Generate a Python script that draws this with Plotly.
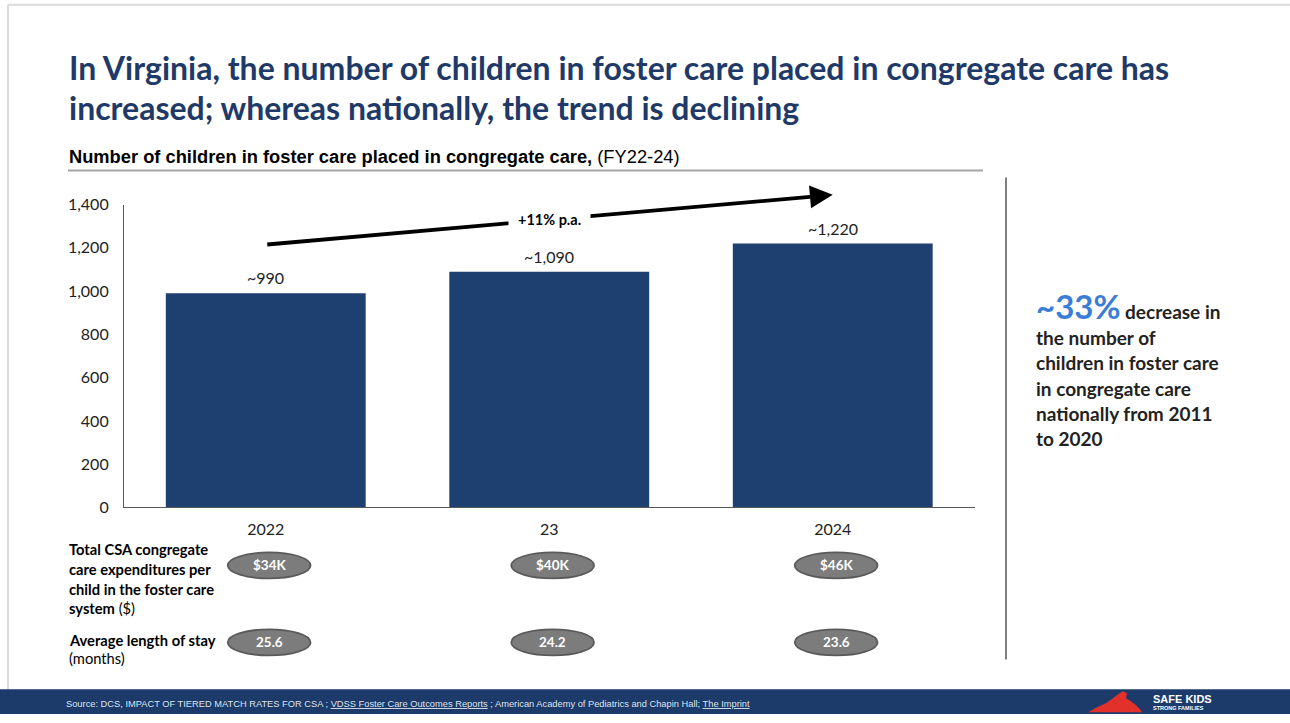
import plotly.graph_objects as go

# ---- data ----
years = ["2022", "23", "2024"]
children = [990, 1090, 1220]
children_labels = ["~990", "~1,090", "~1,220"]
expenditure_k = [34, 40, 46]          # total CSA congregate care spend per child ($K)
avg_stay_months = [25.6, 24.2, 23.6]  # average length of stay
growth_label = "+11% p.a."
y_ticks = [0, 200, 400, 600, 800, 1000, 1200, 1400]

# ---- styles ----
W, H = 1290, 723
NAVY = "#1F3A68"
BAR = "#1E4071"
TEXT = "#222222"
BODY_FONT = "Lato, Liberation Sans, Arial, sans-serif"
TITLE_FONT = "Lato, Liberation Sans, Arial, sans-serif"
ARIAL = "Liberation Sans, Arial, sans-serif"

# the page is shown slightly compressed vertically; layout positions are
# expressed in screen pixels and converted here
V_SCALE, V_OFFSET = 0.9742, 10.3


def px(x):
    return x / W


def py(y):
    return 1 - ((y - V_OFFSET) / V_SCALE) / H


fig = go.Figure(
    go.Bar(
        x=years,
        y=children,
        marker=dict(color=BAR, line=dict(width=0)),
        hoverinfo="skip",
    )
)

annotations = []
shapes = []

# value labels above bars
for i, (v, lab) in enumerate(zip(children, children_labels)):
    annotations.append(dict(
        x=i, y=v, xref="x", yref="y", text=lab, showarrow=False,
        yanchor="bottom", yshift=4, font=dict(family=BODY_FONT, size=16, color=TEXT),
    ))

# growth arrow from first to last bar
ARROW_OFFSET = 225
y_start = children[0] + ARROW_OFFSET
y_end = children[-1] + ARROW_OFFSET
annotations.append(dict(
    x=len(years) - 1, y=y_end, ax=0, ay=y_start, xref="x", yref="y",
    axref="x", ayref="y", text="", showarrow=True, arrowhead=2,
    arrowsize=1.2, arrowwidth=3.8, arrowcolor="black", standoff=0,
))
annotations.append(dict(
    x=(len(years) - 1) / 2, y=(y_start + y_end) / 2, xref="x", yref="y",
    text=f"<b>{growth_label}</b>", showarrow=False, bgcolor="white", borderpad=9,
    xanchor="center", yanchor="middle",
    font=dict(family=BODY_FONT, size=14.5, color="black"),
))

# title
title_lines = [
    "In Virginia, the number of children in foster care placed in congregate care has",
    "increased; whereas nationally, the trend is declining",
]
for line, yc in zip(title_lines, [68, 108]):
    annotations.append(dict(
        x=px(67), y=py(yc), xref="paper", yref="paper", xanchor="left", yanchor="middle",
        text=f"<b>{line}</b>", showarrow=False,
        font=dict(family=TITLE_FONT, size=32, color=NAVY),
    ))

# chart subtitle
annotations.append(dict(
    x=px(67), y=py(157), xref="paper", yref="paper", xanchor="left", yanchor="middle",
    text="<b>Number of children in foster care placed in congregate care,</b> (FY22-24)",
    showarrow=False, font=dict(family=ARIAL, size=18.3, color="black"),
))
shapes.append(dict(type="line", xref="paper", yref="paper", x0=px(68), x1=px(983),
                   y0=py(171), y1=py(171), line=dict(color="#A6A6A6", width=2)))

# separator between chart and call-out
shapes.append(dict(type="line", xref="paper", yref="paper", x0=px(1006), x1=px(1006),
                   y0=py(178), y1=py(660), line=dict(color="#7F7F7F", width=2)))

# row labels under the chart
row_label_lines = [
    ("<b>Total CSA congregate</b>", 550),
    ("<b>care expenditures per</b>", 570),
    ("<b>child in the foster care</b>", 590),
    ("<b>system</b> ($)", 609),
    ("<b>Average length of stay</b>", 641),
    ("(months)", 659),
]
for txt, yc in row_label_lines:
    annotations.append(dict(
        x=px(67), y=py(yc), xref="paper", yref="paper", xanchor="left", yanchor="middle",
        text=txt, showarrow=False, font=dict(family=BODY_FONT, size=14.7, color="black"),
    ))

# pill badges for the two metric rows
PILL_HALF_W = 0.146
PILL_HALF_H = 13
rows = [
    ([f"${v}K" for v in expenditure_k], 566),
    ([f"{v:.1f}" for v in avg_stay_months], 643),
]
for labels, yc in rows:
    for i, lab in enumerate(labels):
        xc = i + 0.012
        shapes.append(dict(
            type="circle", xref="x", yref="paper",
            x0=xc - PILL_HALF_W, x1=xc + PILL_HALF_W,
            y0=py(yc + PILL_HALF_H), y1=py(yc - PILL_HALF_H),
            fillcolor="#7C7C7C", line=dict(color="#5A5A5A", width=1.8), layer="above",
        ))
        annotations.append(dict(
            x=xc, y=py(yc), xref="x", yref="paper", xanchor="center", yanchor="middle",
            text=f"<b>{lab}</b>", showarrow=False,
            font=dict(family=BODY_FONT, size=13.5, color="white"),
        ))

# national call-out on the right
annotations.append(dict(
    x=px(1034), y=py(306), xref="paper", yref="paper", xanchor="left", yanchor="middle",
    text="<span style='font-size:33px;color:#3A7DD6'><b>~33%</b></span><b> decrease in</b>",
    showarrow=False, font=dict(family=BODY_FONT, size=19, color=TEXT),
))
callout_lines = ["the number of", "children in foster care", "in congregate care",
                 "nationally from 2011", "to 2020"]
for txt, yc in zip(callout_lines, [338, 363, 389, 414, 439]):
    annotations.append(dict(
        x=px(1034), y=py(yc), xref="paper", yref="paper", xanchor="left", yanchor="middle",
        text=f"<b>{txt}</b>", showarrow=False, font=dict(family=BODY_FONT, size=19, color=TEXT),
    ))

# slide frame
shapes.append(dict(type="line", xref="paper", yref="paper", x0=px(8), x1=1,
                   y0=py(5), y1=py(5), line=dict(color="#DADADA", width=2)))
shapes.append(dict(type="line", xref="paper", yref="paper", x0=px(8), x1=px(8),
                   y0=py(5), y1=py(690), line=dict(color="#DADADA", width=2)))

# footer band
shapes.append(dict(type="rect", xref="paper", yref="paper", x0=0, x1=1, y0=0, y1=py(690),
                   fillcolor="#1C3A6A", line=dict(width=0), layer="above"))
annotations.append(dict(
    x=px(64), y=py(705), xref="paper", yref="paper", xanchor="left", yanchor="middle",
    text=("Source: DCS, IMPACT OF TIERED MATCH RATES FOR CSA ; <u>VDSS Foster Care Outcomes Reports</u> ; "
          "American Academy of Pediatrics and Chapin Hall; <u>The Imprint</u>"),
    showarrow=False, font=dict(family=ARIAL, size=9.3, color="#DCE3EE"),
))

# logo: red state silhouette plus wordmark
logo_pts = [(1088, 713), (1097, 708), (1106, 704), (1113, 699), (1118, 695), (1123, 692),
            (1127, 694), (1126, 699), (1131, 702), (1136, 706), (1140, 710), (1142, 713)]
path = "M " + " L ".join(f"{px(x):.5f},{py(y):.5f}" for x, y in logo_pts) + " Z"
shapes.append(dict(type="path", xref="paper", yref="paper", path=path,
                   fillcolor="#E2312B", line=dict(width=0), layer="above"))
annotations.append(dict(
    x=px(1151), y=py(700), xref="paper", yref="paper", xanchor="left", yanchor="middle",
    text="<b>SAFE KIDS</b>", showarrow=False,
    font=dict(family=ARIAL, size=11, color="white"),
))
annotations.append(dict(
    x=px(1151), y=py(709), xref="paper", yref="paper", xanchor="left", yanchor="middle",
    text="<b>STRONG FAMILIES</b>", showarrow=False,
    font=dict(family=ARIAL, size=5.5, color="white"),
))

fig.update_layout(
    width=W, height=H, autosize=False,
    margin=dict(l=0, r=0, t=0, b=0),
    paper_bgcolor="white", plot_bgcolor="white",
    showlegend=False, bargap=0.295,
    xaxis=dict(
        domain=[px(124), px(974.5)], type="category", range=[-0.5, len(years) - 0.5],
        showline=True, linecolor="#595959", linewidth=1.2, ticks="", showgrid=False,
        ticklabelstandoff=7, tickfont=dict(family=BODY_FONT, size=16, color=TEXT),
        fixedrange=True,
    ),
    yaxis=dict(
        domain=[py(508), py(205)], range=[0, 1400], tickvals=y_ticks, tickformat=",",
        showline=True, linecolor="#595959", linewidth=1.2, ticks="", showgrid=False,
        zeroline=False, ticklabelstandoff=11,
        tickfont=dict(family=BODY_FONT, size=16, color=TEXT), fixedrange=True,
    ),
    annotations=annotations,
    shapes=shapes,
)

fig.write_html("out.html")
